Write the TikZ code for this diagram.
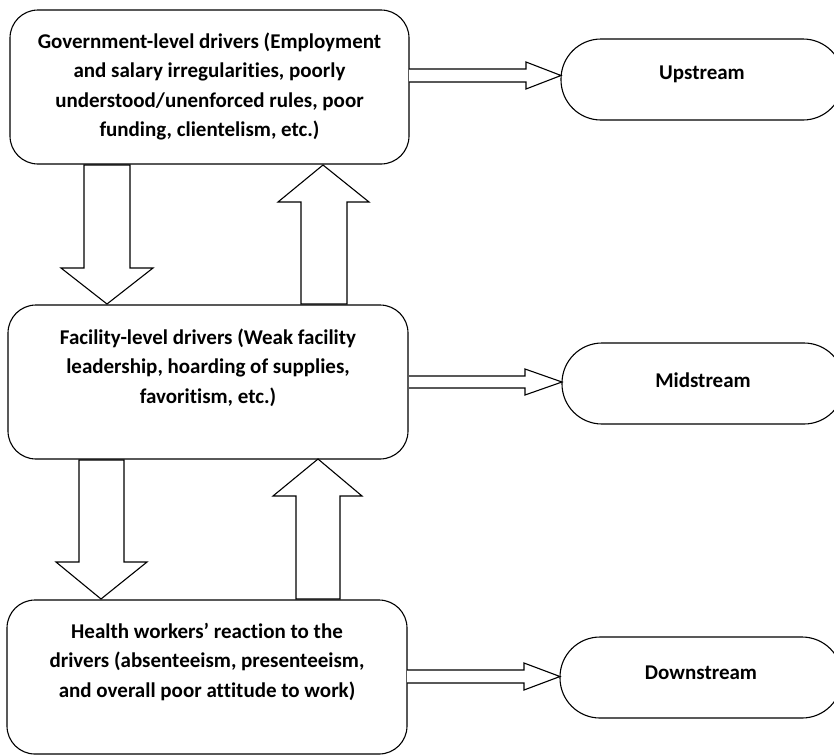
\documentclass[tikz,border=0pt]{standalone}
\usepackage{fontspec}
\setmainfont{Carlito}[Ligatures=NoCommon]
\begin{document}
\begin{tikzpicture}[x=1pt,y=-1pt,
  box/.style={draw=black,line width=1.1pt,rounded corners=28pt,inner sep=0pt,fill=white},
  pill/.style={draw=black,line width=1.1pt,rounded corners=40pt,inner sep=0pt,minimum width=282pt,minimum height=81pt},
  txt/.style={align=center,inner sep=0pt,font=\fontsize{21}{29.5}\selectfont\bfseries},
  blk/.style={draw=black,line width=1.1pt,fill=white,line join=miter}]
\useasboundingbox (0,0) rectangle (834,755);
\clip (0,0) rectangle (834,755);
% boxes
\node[box,minimum width=399pt,minimum height=154pt] (b1) at (209.5,87) {};
\node[box,minimum width=400pt,minimum height=154pt] (b2) at (208,382) {};
\node[box,minimum width=400pt,minimum height=154pt] (b3) at (207,677) {};
\node[txt] (t1) at (209.5,86.5) {Government-level drivers (Employment\\and salary irregularities, poorly\\understood/unenforced rules, poor\\funding, clientelism, etc.)};
\node[txt] (t2) at (208,367.5) {Facility-level drivers (Weak facility\\leadership, hoarding of supplies,\\favoritism, etc.)};
\node[txt] (t3) at (207,661.5) {Health workers’ reaction to the\\drivers (absenteeism, presenteeism,\\and overall poor attitude to work)};
% stadiums
\node[pill,label={[txt,yshift=5pt]center:Upstream}] (s1) at (702,79.5) {};
\node[pill,label={[txt,yshift=3pt]center:Midstream}] (s2) at (703,383.5) {};
\node[pill,label={[txt,yshift=5pt]center:Downstream}] (s3) at (701,677.5) {};
% horizontal block arrows
\draw[blk] (409,69) -- (526,69) -- (526,62) -- (561,75.5) -- (526,89) -- (526,82) -- (409,82);
\draw[blk] (409,376) -- (525,376) -- (525,369) -- (562,382) -- (525,395) -- (525,388) -- (409,388);
\draw[blk] (407,670) -- (524,670) -- (524,663) -- (560,676.5) -- (524,690) -- (524,683) -- (407,683);
% vertical block arrows
\draw[blk] (84,165) -- (84,268) -- (61,268) -- (107,304) -- (153,268) -- (130,268) -- (130,165) -- cycle;
\draw[blk] (301,304) -- (301,202) -- (278,202) -- (323,165) -- (369,202) -- (347,202) -- (347,304) -- cycle;
\draw[blk] (79,460) -- (79,562) -- (56,562) -- (101,599) -- (147,562) -- (124,562) -- (124,460) -- cycle;
\draw[blk] (296,599) -- (296,496) -- (273,496) -- (318,459) -- (362,496) -- (340,496) -- (340,599) -- cycle;
\end{tikzpicture}
\end{document}
